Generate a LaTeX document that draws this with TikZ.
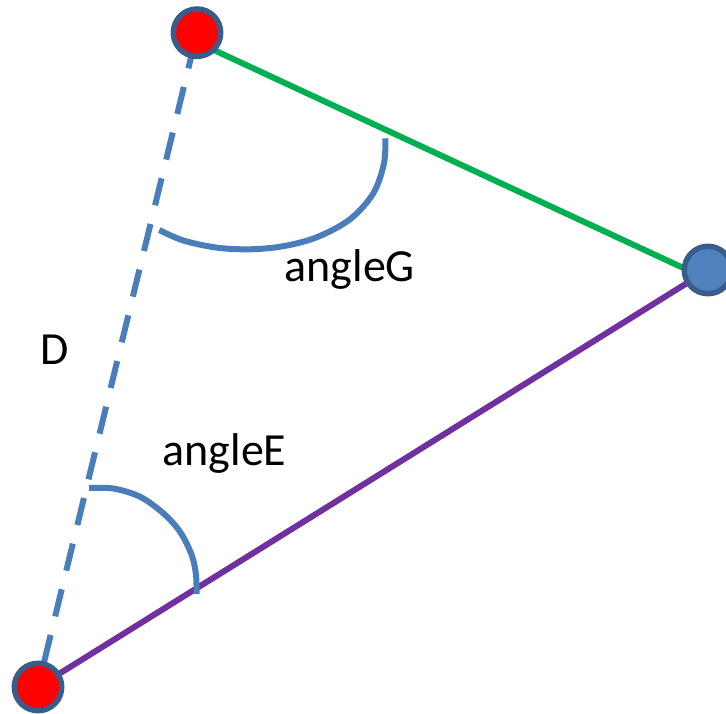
\documentclass[tikz,border=0pt]{standalone}
\usepackage{fontspec}
\setmainfont{Carlito}
\usetikzlibrary{backgrounds}
\definecolor{outl}{HTML}{385D8A}
\definecolor{bluefill}{HTML}{4F81BD}
\definecolor{arcblue}{HTML}{4A7EBB}
\definecolor{lgreen}{HTML}{00B050}
\definecolor{lpurple}{HTML}{7030A0}
\begin{document}
\begin{tikzpicture}[x=1pt,y=-1pt,
  ptnode/.style={circle, draw=outl, line width=5.4pt, minimum size=47.5pt, inner sep=0pt},
  redpt/.style={ptnode, fill=red},
  bluept/.style={ptnode, fill=bluefill},
  seg/.style={line width=6pt},
  arcline/.style={draw=arcblue, line width=6pt},
  lbl/.style={font=\fontsize{46}{55}\selectfont, inner sep=0pt, anchor=base west}]
\useasboundingbox (0,0) rectangle (726,714);
\node[redpt] (A) at (197,32.7) {};
\node[bluept] (B) at (708,270) {};
\node[redpt] (C) at (38,687) {};
\coordinate (g1) at (197,42.2);
\coordinate (g2) at (708,279.4);
\begin{scope}[on background layer]
  \draw[seg, draw=lgreen] (g1) -- (g2);
  \draw[seg, draw=lpurple] (C.center) -- (B.center);
  \draw[seg, draw=arcblue, dash pattern=on 27.8pt off 19.2pt, dash phase=21.3pt] (C.center) -- (A.center);
  \draw[arcline] plot[smooth, tension=0.55] coordinates {(159.3,230) (183.3,240.5) (216.7,247.6) (250,249.3) (283.3,246.2) (316.7,237.3) (350,219.3) (373.3,193.3) (384,163.3) (385.3,138.3)};
  \draw[arcline] plot[smooth, tension=0.55] coordinates {(89,488) (113.3,488.5) (140,496.7) (163.3,513.3) (180,531.7) (191.7,555) (196,575) (196.5,594)};
\end{scope}
\node[lbl] (tG) at (284.5,281.7) {angleG};
\node[lbl] (tE) at (162.5,465) {angleE};
\node[lbl] (tD) at (40,364) {D};
\end{tikzpicture}
\end{document}
